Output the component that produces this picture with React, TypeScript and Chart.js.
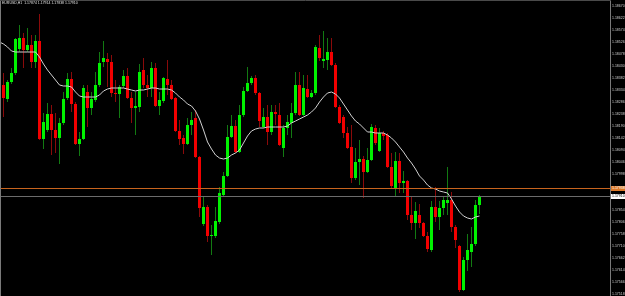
import React, { useEffect, useRef } from "react";
import { Chart, registerables } from "chart.js";

Chart.register(...registerables);

const chartTitle = "EURUSD,H1  1.17874 1.17914 1.17838 1.17910";

const opens = [
  1.18302, 1.18354, 1.18298, 1.18366, 1.18402, 1.18498, 1.18542, 1.18494, 1.18514, 1.18446,
  1.18530, 1.18138, 1.18174, 1.18238, 1.18174, 1.18142, 1.18202, 1.18302, 1.18378, 1.18278,
  1.18118, 1.18138, 1.18326, 1.18262, 1.18294, 1.18354, 1.18446, 1.18458, 1.18446, 1.18322,
  1.18318, 1.18350, 1.18390, 1.18302, 1.18262, 1.18266, 1.18414, 1.18354, 1.18342, 1.18422,
  1.18270, 1.18290, 1.18378, 1.18354, 1.18302, 1.18170, 1.18142, 1.18118, 1.18194, 1.18222,
  1.18066, 1.17798, 1.17866, 1.17750, 1.17750, 1.17806, 1.17914, 1.17990, 1.18146, 1.18190,
  1.18086, 1.18234, 1.18330, 1.18362, 1.18382, 1.18322, 1.18186, 1.18226, 1.18166, 1.18246,
  1.18234, 1.18102, 1.18182, 1.18202, 1.18242, 1.18354, 1.18234, 1.18338, 1.18306, 1.18322,
  1.18502, 1.18450, 1.18454, 1.18486, 1.18434, 1.18266, 1.18226, 1.18162, 1.18106, 1.17982,
  1.18046, 1.18058, 1.18006, 1.18054, 1.18182, 1.18090, 1.18162, 1.18154, 1.18026, 1.17942,
  1.18050, 1.17962, 1.17970, 1.17834, 1.17802, 1.17834, 1.17802, 1.17750, 1.17694, 1.17866,
  1.17826, 1.17862, 1.17882, 1.17894, 1.17786, 1.17710, 1.17534, 1.17654, 1.17686, 1.17718,
  1.17874,
];

const highs = [
  1.18374, 1.18402, 1.18374, 1.18422, 1.18542, 1.18594, 1.18562, 1.18582, 1.18554, 1.18554,
  1.18638, 1.18242, 1.18282, 1.18274, 1.18242, 1.18222, 1.18326, 1.18402, 1.18406, 1.18286,
  1.18166, 1.18354, 1.18354, 1.18326, 1.18406, 1.18486, 1.18530, 1.18482, 1.18474, 1.18374,
  1.18354, 1.18414, 1.18422, 1.18326, 1.18326, 1.18438, 1.18462, 1.18394, 1.18446, 1.18442,
  1.18326, 1.18386, 1.18454, 1.18374, 1.18306, 1.18214, 1.18154, 1.18222, 1.18246, 1.18254,
  1.18070, 1.17906, 1.17874, 1.17794, 1.17866, 1.17946, 1.18006, 1.18194, 1.18234, 1.18214,
  1.18274, 1.18346, 1.18426, 1.18390, 1.18394, 1.18326, 1.18262, 1.18274, 1.18274, 1.18274,
  1.18282, 1.18194, 1.18234, 1.18282, 1.18406, 1.18406, 1.18394, 1.18394, 1.18334, 1.18514,
  1.18554, 1.18570, 1.18542, 1.18542, 1.18442, 1.18274, 1.18234, 1.18186, 1.18194, 1.18102,
  1.18134, 1.18070, 1.18102, 1.18198, 1.18194, 1.18182, 1.18170, 1.18162, 1.18082, 1.18086,
  1.18082, 1.18010, 1.17974, 1.17906, 1.17886, 1.17878, 1.17806, 1.17766, 1.17890, 1.17946,
  1.17890, 1.17906, 1.18026, 1.17926, 1.17794, 1.17714, 1.17666, 1.17758, 1.17786, 1.17894,
  1.17914,
];

const lows = [
  1.18262, 1.18226, 1.18286, 1.18358, 1.18394, 1.18486, 1.18422, 1.18486, 1.18422, 1.18422,
  1.18134, 1.18098, 1.18166, 1.18074, 1.18082, 1.18038, 1.18194, 1.18294, 1.18246, 1.18114,
  1.18070, 1.18134, 1.18186, 1.18234, 1.18286, 1.18346, 1.18426, 1.18346, 1.18306, 1.18286,
  1.18222, 1.18342, 1.18298, 1.18202, 1.18154, 1.18246, 1.18342, 1.18306, 1.18306, 1.18266,
  1.18234, 1.18282, 1.18314, 1.18294, 1.18166, 1.18114, 1.18078, 1.18114, 1.18154, 1.18062,
  1.17826, 1.17790, 1.17726, 1.17674, 1.17742, 1.17798, 1.17906, 1.17986, 1.18142, 1.18082,
  1.18082, 1.18226, 1.18326, 1.18354, 1.18314, 1.18186, 1.18182, 1.18114, 1.18154, 1.18194,
  1.18110, 1.18066, 1.18154, 1.18142, 1.18234, 1.18230, 1.18230, 1.18302, 1.18302, 1.18314,
  1.18450, 1.18422, 1.18414, 1.18430, 1.18262, 1.18198, 1.18142, 1.18098, 1.17962, 1.17974,
  1.17954, 1.17902, 1.18002, 1.18050, 1.18114, 1.18086, 1.18134, 1.18022, 1.17942, 1.17910,
  1.17922, 1.17922, 1.17814, 1.17774, 1.17738, 1.17782, 1.17746, 1.17686, 1.17686, 1.17806,
  1.17774, 1.17834, 1.17834, 1.17766, 1.17702, 1.17526, 1.17530, 1.17610, 1.17626, 1.17710,
  1.17838,
];

const closes = [
  1.18354, 1.18302, 1.18366, 1.18402, 1.18538, 1.18542, 1.18494, 1.18514, 1.18446, 1.18530,
  1.18138, 1.18206, 1.18238, 1.18174, 1.18142, 1.18202, 1.18298, 1.18378, 1.18278, 1.18118,
  1.18138, 1.18342, 1.18262, 1.18298, 1.18354, 1.18442, 1.18462, 1.18446, 1.18322, 1.18318,
  1.18346, 1.18390, 1.18302, 1.18262, 1.18270, 1.18406, 1.18354, 1.18342, 1.18422, 1.18270,
  1.18294, 1.18382, 1.18354, 1.18298, 1.18170, 1.18138, 1.18118, 1.18194, 1.18214, 1.18066,
  1.17862, 1.17866, 1.17750, 1.17754, 1.17810, 1.17922, 1.17990, 1.18146, 1.18190, 1.18086,
  1.18234, 1.18330, 1.18362, 1.18382, 1.18322, 1.18210, 1.18226, 1.18166, 1.18246, 1.18238,
  1.18114, 1.18182, 1.18206, 1.18242, 1.18354, 1.18234, 1.18342, 1.18306, 1.18322, 1.18506,
  1.18462, 1.18458, 1.18486, 1.18434, 1.18266, 1.18202, 1.18162, 1.18102, 1.17982, 1.18046,
  1.18058, 1.18006, 1.18054, 1.18186, 1.18122, 1.18162, 1.18150, 1.18026, 1.17950, 1.18050,
  1.17962, 1.17970, 1.17834, 1.17802, 1.17850, 1.17802, 1.17750, 1.17698, 1.17866, 1.17826,
  1.17862, 1.17894, 1.17894, 1.17786, 1.17734, 1.17534, 1.17654, 1.17694, 1.17718, 1.17874,
  1.17910,
];

const movingAverage = [
  1.18526, 1.18518, 1.18506, 1.18490, 1.18486, 1.18486, 1.18486, 1.18486, 1.18486, 1.18486,
  1.18466, 1.18438, 1.18414, 1.18394, 1.18374, 1.18354, 1.18350, 1.18350, 1.18346, 1.18326,
  1.18310, 1.18306, 1.18306, 1.18306, 1.18306, 1.18314, 1.18330, 1.18338, 1.18342, 1.18342,
  1.18342, 1.18342, 1.18338, 1.18334, 1.18330, 1.18334, 1.18334, 1.18338, 1.18342, 1.18342,
  1.18338, 1.18338, 1.18338, 1.18334, 1.18322, 1.18306, 1.18294, 1.18278, 1.18270, 1.18250,
  1.18218, 1.18174, 1.18126, 1.18098, 1.18074, 1.18062, 1.18058, 1.18062, 1.18074, 1.18082,
  1.18094, 1.18122, 1.18150, 1.18170, 1.18178, 1.18182, 1.18182, 1.18186, 1.18186, 1.18186,
  1.18186, 1.18186, 1.18190, 1.18202, 1.18210, 1.18218, 1.18226, 1.18234, 1.18246, 1.18262,
  1.18286, 1.18306, 1.18322, 1.18326, 1.18318, 1.18302, 1.18278, 1.18254, 1.18230, 1.18210,
  1.18198, 1.18182, 1.18166, 1.18166, 1.18162, 1.18162, 1.18162, 1.18154, 1.18142, 1.18126,
  1.18106, 1.18086, 1.18062, 1.18042, 1.18018, 1.17990, 1.17974, 1.17954, 1.17942, 1.17938,
  1.17930, 1.17926, 1.17922, 1.17898, 1.17870, 1.17846, 1.17830, 1.17822, 1.17818, 1.17826,
  1.17830,
];

const priceTicks = [
  1.1867, 1.18622, 1.18574, 1.18526, 1.18478, 1.1843, 1.18382, 1.18334, 1.18286, 1.18238,
  1.1819, 1.18142, 1.18094, 1.18046, 1.17998, 1.1795, 1.17902, 1.17854, 1.17806, 1.17758,
  1.1771, 1.17662, 1.17614, 1.17566, 1.17518,
];

const levelLine = 1.17938;
const bidPrice = 1.1791;

export default function App() {
  const ref = useRef<HTMLCanvasElement>(null);

  useEffect(() => {
    const canvas = ref.current;
    if (!canvas) return;
    const idx = opens.map((_, i) => i);
    const up = idx.map((i) => closes[i] >= opens[i]);
    const bodyColors = up.map((u) => (u ? "#00f200" : "#f20000"));
    const wickColors = up.map((u) => (u ? "#127a12" : "#8a0a0a"));
    const font = '"Liberation Sans", Arial, sans-serif';

    const mtPlugin = {
      id: "mt4",
      beforeDraw(chart: any) {
        const ctx = chart.ctx;
        ctx.save();
        ctx.fillStyle = "#000000";
        ctx.fillRect(0, 0, chart.width, chart.height);
        ctx.restore();
      },
      afterDatasetsDraw(chart: any) {
        const ctx = chart.ctx;
        const y = chart.scales.y;
        const area = chart.chartArea;
        ctx.save();
        ctx.lineWidth = 1;
        const yl = Math.floor(y.getPixelForValue(levelLine)) + 0.5;
        ctx.strokeStyle = "#c8641e";
        ctx.beginPath();
        ctx.moveTo(area.left, yl);
        ctx.lineTo(area.right, yl);
        ctx.stroke();
        const yb = Math.floor(y.getPixelForValue(bidPrice)) + 0.5;
        ctx.strokeStyle = "#6c6c6c";
        ctx.beginPath();
        ctx.moveTo(area.left, yb);
        ctx.lineTo(area.right, yb);
        ctx.stroke();
        ctx.restore();
      },
      afterDraw(chart: any) {
        const ctx = chart.ctx;
        const y = chart.scales.y;
        const area = chart.chartArea;
        ctx.save();
        ctx.lineWidth = 1;
        ctx.strokeStyle = "#7a7a7a";
        ctx.beginPath();
        ctx.moveTo(0.5, 0);
        ctx.lineTo(0.5, chart.height);
        ctx.moveTo(area.right + 0.5, 0);
        ctx.lineTo(area.right + 0.5, chart.height);
        ctx.stroke();
        ctx.strokeStyle = "#4a4a4a";
        ctx.beginPath();
        ctx.moveTo(0, 0.5);
        ctx.lineTo(area.right + 1, 0.5);
        ctx.stroke();

        ctx.font = "3.5px " + font;
        ctx.textBaseline = "middle";
        ctx.textAlign = "left";
        const yl = Math.floor(y.getPixelForValue(levelLine)) + 0.5;
        ctx.fillStyle = "#dc7828";
        ctx.fillRect(area.right + 1, yl - 2.5, 14, 5);
        ctx.fillStyle = "#ffffff";
        ctx.fillText(levelLine.toFixed(5), area.right + 2, yl);
        const yb = Math.floor(y.getPixelForValue(bidPrice)) + 0.5;
        ctx.fillStyle = "#ffffff";
        ctx.fillRect(area.right + 1, yb - 2.5, 14, 5);
        ctx.fillStyle = "#000000";
        ctx.fillText(bidPrice.toFixed(5), area.right + 2, yb);

        ctx.fillStyle = "#e0e0e0";
        ctx.fillText(chartTitle, 2, 3.5);
        ctx.restore();
      },
    };

    const chart = new Chart(canvas, {
      type: "bar",
      data: {
        datasets: [
          {
            type: "line",
            data: idx.map((i) => ({ x: i, y: movingAverage[i] })),
            borderColor: "#d0d0d0",
            borderWidth: 1,
            pointRadius: 0,
            tension: 0,
            order: 0,
          } as any,
          {
            type: "bar",
            data: idx.map((i) => ({ x: i, y: [opens[i], closes[i]] })),
            backgroundColor: bodyColors,
            barThickness: 3,
            grouped: false,
            inflateAmount: 0,
            borderWidth: 0,
            order: 1,
          } as any,
          {
            type: "bar",
            data: idx.map((i) => ({ x: i, y: [lows[i], highs[i]] })),
            backgroundColor: wickColors,
            barThickness: 1,
            grouped: false,
            inflateAmount: 0,
            borderWidth: 0,
            order: 2,
          } as any,
        ],
      },
      options: {
        animation: false,
        responsive: false,
        devicePixelRatio: 1,
        events: [],
        layout: { padding: 0 },
        plugins: {
          legend: { display: false },
          tooltip: { enabled: false },
          title: { display: false },
        },
        scales: {
          x: {
            type: "linear",
            min: 0.125,
            max: 152.625,
            offset: false,
            display: false,
          },
          y: {
            type: "linear",
            position: "right",
            min: 1.1751,
            max: 1.18694,
            grid: { display: false, drawTicks: false },
            border: { display: false },
            ticks: {
              color: "#d0d0d0",
              font: { size: 3.5, family: font },
              padding: 2,
              autoSkip: false,
              callback: (v: any) => Number(v).toFixed(5),
            },
            afterBuildTicks: (s: any) => {
              s.ticks = priceTicks
                .filter((v) => Math.abs(v - levelLine) > 0.0002 && Math.abs(v - bidPrice) > 0.0002)
                .map((v) => ({ value: v }));
            },
            afterFit: (s: any) => {
              s.width = 15;
              s.paddingTop = 0;
              s.paddingBottom = 0;
            },
          },
        },
      } as any,
      plugins: [mtPlugin],
    });

    return () => chart.destroy();
  }, []);

  return (
    <div
      style={{
        position: "fixed",
        left: 0,
        top: 0,
        width: 625,
        height: 296,
        background: "#000",
      }}
    >
      <canvas ref={ref} width={625} height={296} style={{ display: "block" }} />
    </div>
  );
}
